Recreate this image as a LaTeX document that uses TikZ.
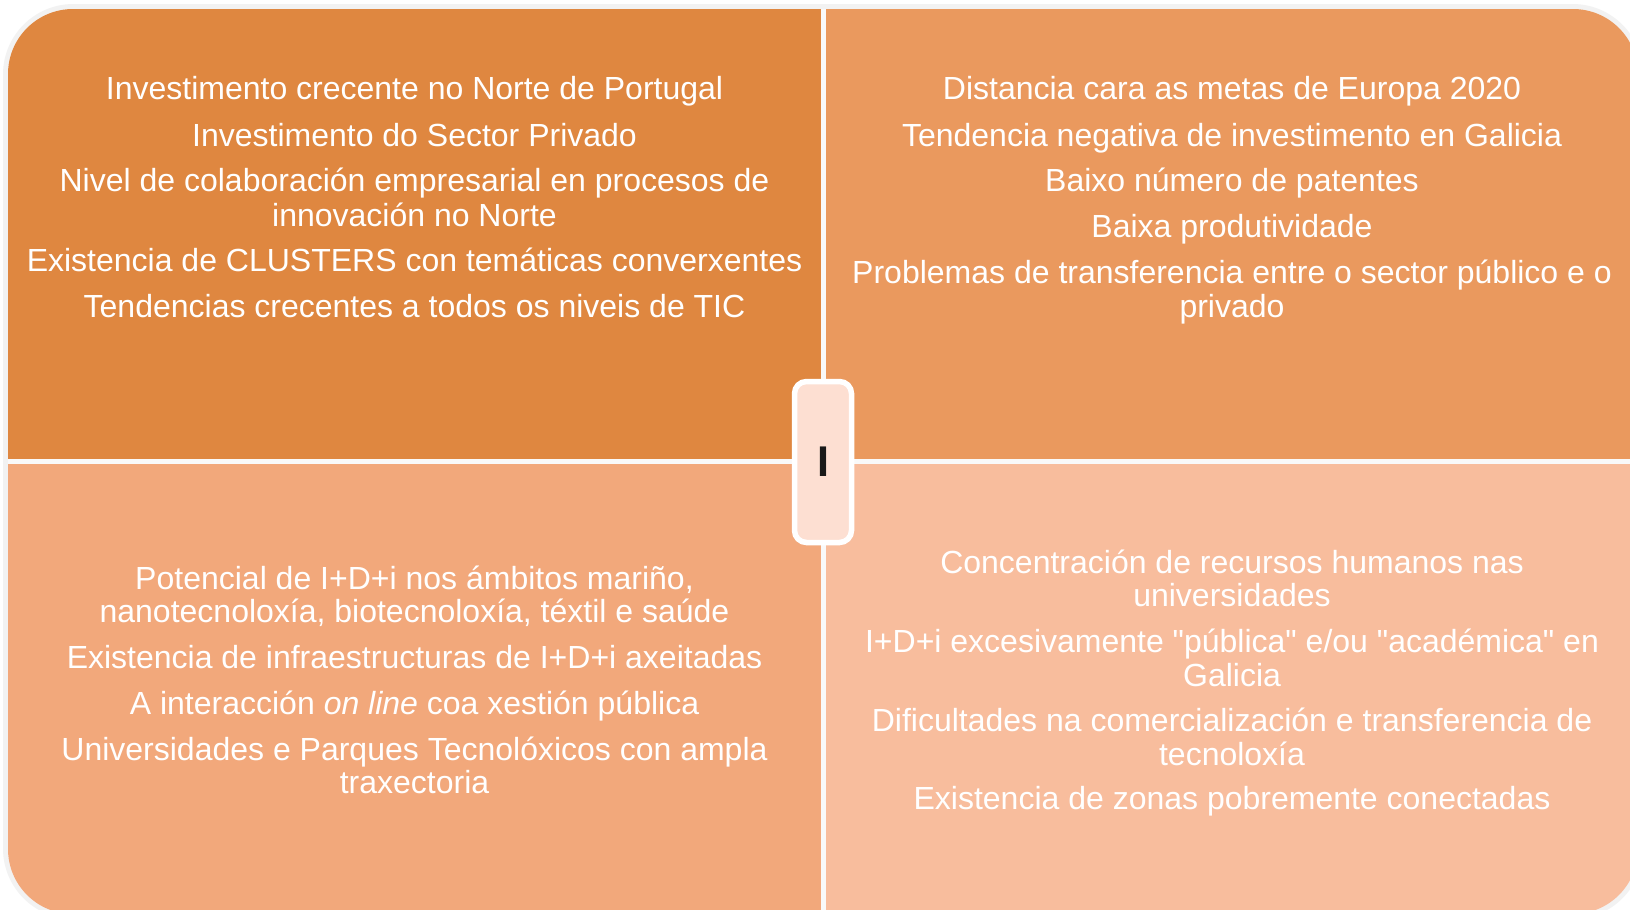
\documentclass[tikz,border=0pt]{standalone}
\usepackage{fontspec}
\setmainfont{Liberation Sans}[Ligatures=TeXOff]
\definecolor{cTL}{HTML}{DF8740}
\definecolor{cTR}{HTML}{EA995E}
\definecolor{cBL}{HTML}{F2A87B}
\definecolor{cBR}{HTML}{F8BD9D}
\definecolor{cMid}{HTML}{FDDFD2}
\definecolor{cEdge}{HTML}{F2F2F2}
\definecolor{cGap}{HTML}{F9F9F9}
\begin{document}
\begin{tikzpicture}[x=1pt,y=-1pt,
  txt/.style={anchor=base,text=white,inner sep=0pt,font=\fontsize{32}{36}\selectfont},
  midbox/.style={draw=white,line width=5.5pt,fill=cMid,rounded corners=12pt,
     minimum width=57pt,minimum height=161pt,inner sep=0pt,
     font=\fontsize{43}{48}\selectfont\bfseries,text=black!90}]
\useasboundingbox (0,0) rectangle (1630,910);
\fill[white] (0,0) rectangle (1630,910);
% outer light edge
\draw[cEdge,line width=5pt,rounded corners=68pt] (5.5,6.5) rectangle (1640.5,916.5);
\begin{scope}
  \clip[rounded corners=65pt] (8,9) rectangle (1638,914);
  \fill[cTL] (8,9) rectangle (823.5,461.5);
  \fill[cTR] (823.5,9) rectangle (1638,461.5);
  \fill[cBL] (8,461.5) rectangle (823.5,914);
  \fill[cBR] (823.5,461.5) rectangle (1638,914);
  \draw[cGap,line width=5pt] (823.5,0) -- (823.5,920);
  \draw[cGap,line width=5pt] (0,461.5) -- (1650,461.5);
\end{scope}
% top-left
\node[txt] (tl1) at (414.5,99) {Investimento crecente no Norte de Portugal};
\node[txt] (tl2) at (414.5,146) {Investimento do Sector Privado};
\node[txt] (tl3a) at (414.5,191) {Nivel de colaboración empresarial en procesos de};
\node[txt] (tl3b) at (414.5,226) {innovación no Norte};
\node[txt] (tl4) at (414.5,271) {Existencia de CLUSTERS con temáticas converxentes};
\node[txt] (tl5) at (414.5,317) {Tendencias crecentes a todos os niveis de TIC};
% top-right
\node[txt] (tr1) at (1232,99) {Distancia cara as metas de Europa 2020};
\node[txt] (tr2) at (1232,146) {Tendencia negativa de investimento en Galicia};
\node[txt] (tr3) at (1232,191) {Baixo número de patentes};
\node[txt] (tr4) at (1232,237) {Baixa produtividade};
\node[txt] (tr5a) at (1232,283) {Problemas de transferencia entre o sector público e o};
\node[txt] (tr5b) at (1232,317) {privado};
% bottom-left
\node[txt] (bl1a) at (414.5,589) {Potencial de I+D+i nos ámbitos mariño,};
\node[txt] (bl1b) at (414.5,622) {nanotecnoloxía, biotecnoloxía, téxtil e saúde};
\node[txt] (bl2) at (414.5,668) {Existencia de infraestructuras de I+D+i axeitadas};
\node[txt] (bl3) at (414.5,714) {A interacción \textit{on line} coa xestión pública};
\node[txt] (bl4a) at (414.5,760) {Universidades e Parques Tecnolóxicos con ampla};
\node[txt] (bl4b) at (414.5,793) {traxectoria};
% bottom-right
\node[txt] (br1a) at (1232,573) {Concentración de recursos humanos nas};
\node[txt] (br1b) at (1232,606) {universidades};
\node[txt] (br2a) at (1232,652) {I+D+i excesivamente "pública" e/ou "académica" en};
\node[txt] (br2b) at (1232,686) {Galicia};
\node[txt] (br3a) at (1232,731) {Dificultades na comercialización e transferencia de};
\node[txt] (br3b) at (1232,765) {tecnoloxía};
\node[txt] (br4) at (1232,809) {Existencia de zonas pobremente conectadas};
% centre
\node[midbox] (mid) at (823,462) {I};
\end{tikzpicture}
\end{document}
